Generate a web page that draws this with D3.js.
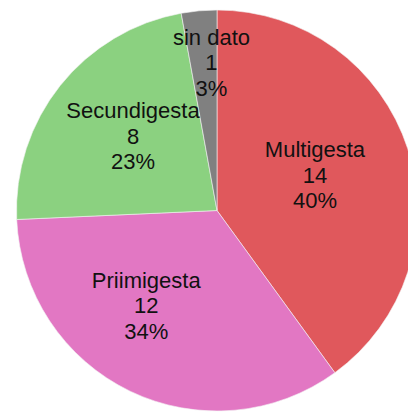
<!DOCTYPE html>
<html>
<head>
<meta charset="utf-8">
<script src="https://cdn.jsdelivr.net/npm/d3@7"></script>
<style>
  body { margin: 0; background: #fff; }
  svg { display: block; }
</style>
</head>
<body>
<script>
var categories = ["Multigesta", "Priimigesta", "Secundigesta", "sin dato"];
var counts = [14, 12, 8, 1];
var percents = ["40%", "34%", "23%", "3%"];
var colors = ["#e0585c", "#e277c3", "#8bd180", "#808080"];

var width = 408, height = 413;
var cx = 217, cy = 210.5, radius = 200.5;

// label placement tweaks: [angle shift in degrees, radius fraction]
var labelShift = {
  "Multigesta": [-2, 0.52],
  "Priimigesta": [11, 0.59],
  "Secundigesta": [3, 0.56],
  "sin dato": [3, 0.74]
};

var data = categories.map(function(c, i) {
  return {name: c, value: counts[i], pct: percents[i], color: colors[i]};
});

var pie = d3.pie()
    .sort(null)
    .value(function(d) { return d.value; });

var arc = d3.arc()
    .innerRadius(0)
    .outerRadius(radius);

var svg = d3.select("body").append("svg")
    .attr("width", width)
    .attr("height", height)
  .append("g")
    .attr("transform", "translate(" + cx + "," + cy + ")");

var arcs = pie(data);

svg.selectAll("path")
    .data(arcs)
  .enter().append("path")
    .attr("d", arc)
    .style("fill", function(d) { return d.data.color; })
    .style("stroke", "#f4f4f4")
    .style("stroke-width", 0.6);

var labels = svg.selectAll("text.lbl")
    .data(arcs)
  .enter().append("text")
    .attr("class", "lbl")
    .attr("transform", function(d) {
      var s = labelShift[d.data.name];
      var a = (d.startAngle + d.endAngle) / 2 + s[0] * Math.PI / 180;
      var r = s[1] * radius;
      return "translate(" + (r * Math.sin(a)) + "," + (-r * Math.cos(a)) + ")";
    })
    .style("font-family", "'Liberation Sans', Arial, sans-serif")
    .style("font-size", "22px")
    .style("fill", "#111")
    .style("text-anchor", "middle");

labels.each(function(d) {
  var t = d3.select(this);
  var lines = [d.data.name, d.data.value, d.data.pct];
  lines.forEach(function(l, i) {
    t.append("tspan")
        .attr("x", 0)
        .attr("y", (i - 1) * 25.5 + 7.8)
        .text(l);
  });
});
</script>
</body>
</html>
